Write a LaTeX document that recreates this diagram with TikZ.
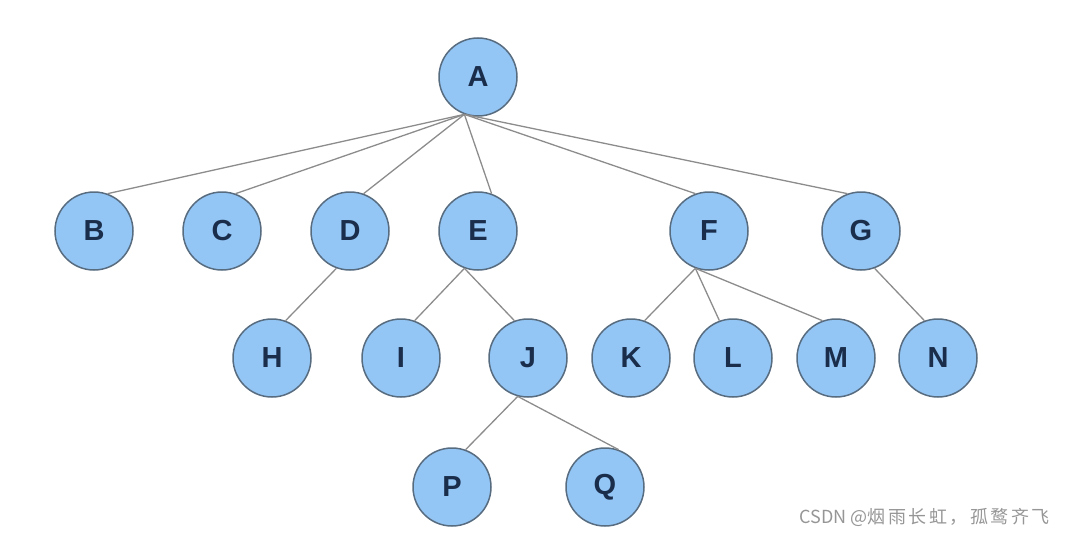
\documentclass[tikz,border=0pt]{standalone}
\usepackage{fontspec}
\setmainfont{Liberation Sans}
\newfontfamily\cjkfont{Noto Sans CJK SC}
\definecolor{nodefill}{RGB}{147,197,245}
\definecolor{nodeline}{RGB}{88,108,128}
\definecolor{nodetext}{RGB}{26,46,76}
\definecolor{edgecol}{RGB}{140,140,140}
\definecolor{markgray}{RGB}{150,150,150}
\begin{document}
\begin{tikzpicture}[x=1pt,y=-1pt,
  treenode/.style={circle, draw=nodeline, line width=1.5pt, fill=nodefill,
    minimum size=78pt, inner sep=0pt, text=nodetext,
    font=\fontsize{29}{30}\selectfont\bfseries},
  edge/.style={draw=edgecol, line width=1.3pt}]
\useasboundingbox (0,0) rectangle (1066,535);
% nodes
\node[treenode] (A) at (478,77) {A};
\node[treenode] (B) at (94,231) {B};
\node[treenode] (C) at (222,231) {C};
\node[treenode] (D) at (350,231) {D};
\node[treenode] (E) at (478,231) {E};
\node[treenode] (F) at (709,231) {F};
\node[treenode] (G) at (861,231) {G};
\node[treenode] (H) at (272,358) {H};
\node[treenode] (I) at (401,358) {I};
\node[treenode] (J) at (528,358) {J};
\node[treenode] (K) at (631,358) {K};
\node[treenode] (L) at (733,358) {L};
\node[treenode] (M) at (836,358) {M};
\node[treenode] (N) at (938,358) {N};
\node[treenode] (P) at (452,487) {P};
\node[treenode] (Q) at (605,487) {Q};
% connectors
\draw[edge] (A.-110) -- (B.70);
\draw[edge] (A.-110) -- (C.70);
\draw[edge] (A.-110) -- (D.70);
\draw[edge] (A.-110) -- (E.70);
\draw[edge] (A.-110) -- (F.110);
\draw[edge] (A.-110) -- (G.110);
\draw[edge] (D.-110) -- (H.70);
\draw[edge] (E.-110) -- (I.70);
\draw[edge] (E.-110) -- (J.110);
\draw[edge] (F.-110) -- (K.70);
\draw[edge] (F.-110) -- (L.110);
\draw[edge] (F.-110) -- (M.110);
\draw[edge] (G.-70) -- (N.110);
\draw[edge] (J.-105) -- (P.70);
\draw[edge] (J.-105) -- (Q.70);
% watermark
\node[anchor=east, text=markgray, inner sep=0pt, font=\cjkfont\fontsize{18}{20}\selectfont] (wm) at (1050,517)
  {CSDN @{\addfontfeatures{LetterSpace=14}烟雨长虹，孤鹜齐飞}};
\end{tikzpicture}
\end{document}
